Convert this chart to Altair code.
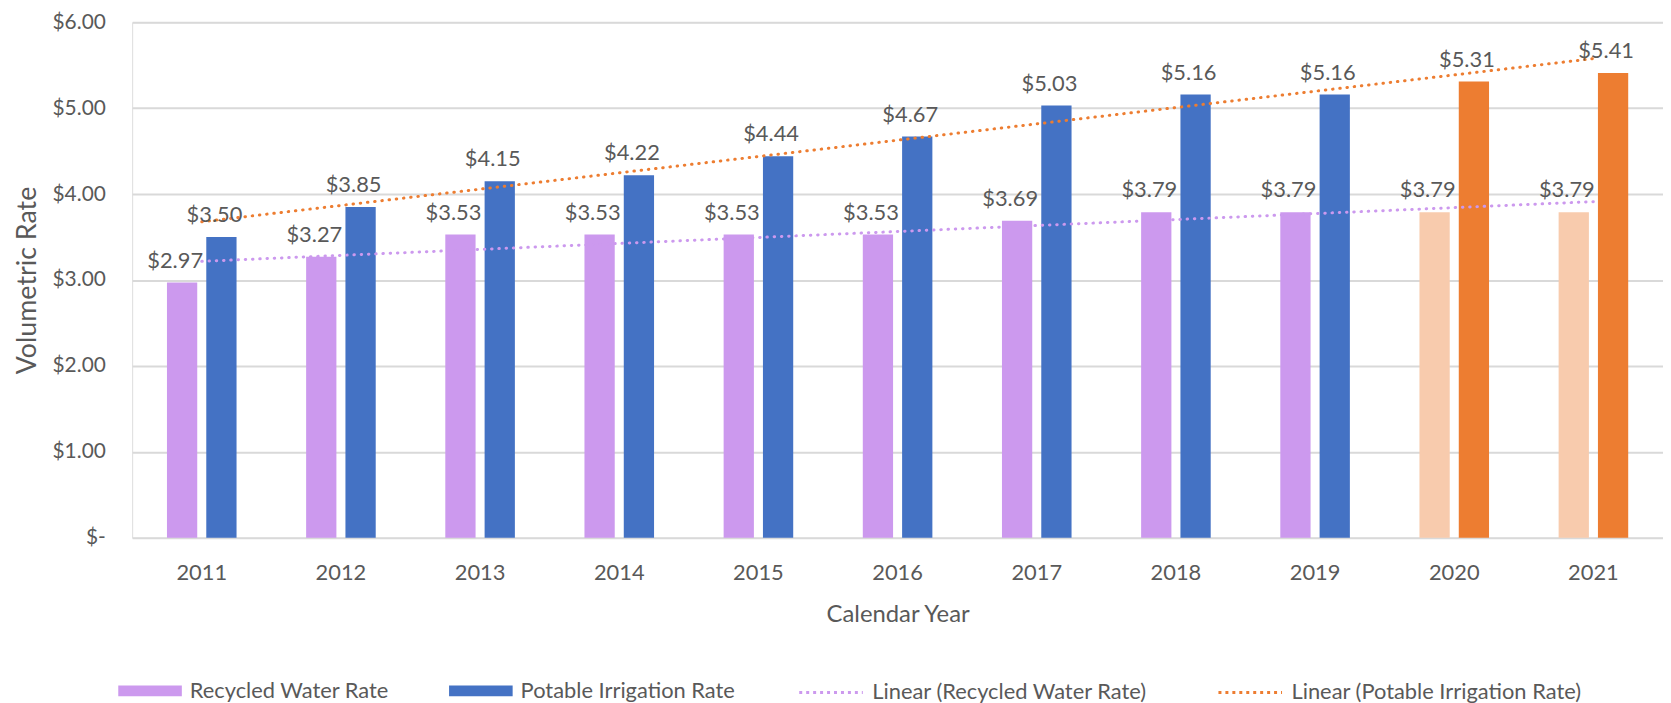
import altair as alt
import pandas as pd

# ---------------- data ----------------
years = [2011, 2012, 2013, 2014, 2015, 2016, 2017, 2018, 2019, 2020, 2021]
recycled = [2.97, 3.27, 3.53, 3.53, 3.53, 3.53, 3.69, 3.79, 3.79, 3.79, 3.79]
potable = [3.50, 3.85, 4.15, 4.22, 4.44, 4.67, 5.03, 5.16, 5.16, 5.31, 5.41]
series_names = ["Recycled Water Rate", "Potable Irrigation Rate"]
trend_names = ["Linear (Recycled Water Rate)", "Linear (Potable Irrigation Rate)"]
proposed_years = [2020, 2021]
proposed_names = ["Recycled Water Rate (2020-2021)", "Potable Irrigation Rate (2020-2021)"]
y_ticks = [0, 1, 2, 3, 4, 5, 6]

# ---------------- styles ----------------
PURPLE = "#CC99EE"
BLUE = "#4472C4"
PEACH = "#F8CBAD"
ORANGE = "#ED7D31"
GREY = "#595959"
GRID = "#D9D9D9"
FONT = "Lato"

rows = []
for i, yr in enumerate(years):
    for j, vals in enumerate([recycled, potable]):
        key = proposed_names[j] if yr in proposed_years else series_names[j]
        rows.append({"year": yr, "series": series_names[j], "value": vals[i], "colorKey": key})
df = pd.DataFrame(rows)

RECT = "M-2,-0.34H2V0.34H-2Z"
LINE = "M-2,0H2"
DOTS = [0.5, 6.8]

bar_legend = alt.Legend(
    title=None,
    orient="none",
    legendX=2,
    legendY=657,
    direction="horizontal",
    values=series_names,
    symbolType=RECT,
    symbolSize=1024,
    symbolStrokeWidth=0,
    labelFont=FONT,
    labelFontSize=22,
    labelColor=GREY,
    labelOffset=24,
    labelLimit=0,
    columnPadding=60,
    padding=0,
)

trend_legend = alt.Legend(
    title=None,
    orient="none",
    legendX=686,
    legendY=657,
    direction="horizontal",
    symbolType=LINE,
    symbolSize=1024,
    symbolStrokeWidth=3,
    symbolDash=[3, 4],
    symbolOpacity=1,
    labelFont=FONT,
    labelFontSize=22,
    labelColor=GREY,
    labelOffset=24,
    labelLimit=0,
    columnPadding=64,
    padding=0,
)

x_enc = alt.X(
    "year:O",
    scale=alt.Scale(domain=years, paddingInner=0.5, paddingOuter=0.25),
    axis=alt.Axis(
        title="Calendar Year",
        labelAngle=0,
        labelFont=FONT,
        labelFontSize=22,
        labelColor=GREY,
        labelPadding=25,
        ticks=False,
        tickSize=0,
        domain=False,
        grid=False,
        titleFont=FONT,
        titleFontSize=24,
        titleColor=GREY,
        titleFontWeight="normal",
        titlePadding=19,
    ),
)

y_enc = alt.Y(
    "value:Q",
    scale=alt.Scale(domain=[0, 6], nice=False),
    axis=alt.Axis(
        values=y_ticks,
        labelExpr="datum.value == 0 ? '$-\u00a0\u00a0' : '$' + format(datum.value, '.2f')",
        labelFont=FONT,
        labelFontSize=21,
        labelColor=GREY,
        labelPadding=27,
        ticks=False,
        tickSize=0,
        domain=False,
        grid=True,
        gridColor=GRID,
        gridWidth=2,
        title="Volumetric Rate",
        titleFont=FONT,
        titleFontSize=27,
        titleColor=GREY,
        titleFontWeight="normal",
        titlePadding=11,
    ),
)

x_off = alt.XOffset(
    "series:N",
    sort=series_names,
    scale=alt.Scale(domain=series_names, paddingInner=0.23, paddingOuter=0),
)

base = alt.Chart(df)

bars = base.mark_bar().encode(
    x=x_enc,
    xOffset=x_off,
    y=y_enc,
    color=alt.Color(
        "colorKey:N",
        scale=alt.Scale(domain=series_names + proposed_names, range=[PURPLE, BLUE, PEACH, ORANGE]),
        legend=bar_legend,
    ),
)

trend = (
    base.transform_joinaggregate(mx="mean(year)", my="mean(value)", groupby=["series"])
    .transform_calculate(
        dxy="(datum.year - datum.mx) * (datum.value - datum.my)",
        dxx="(datum.year - datum.mx) * (datum.year - datum.mx)",
    )
    .transform_joinaggregate(sxy="sum(dxy)", sxx="sum(dxx)", groupby=["series"])
    .transform_calculate(
        trend="datum.my + datum.sxy / datum.sxx * (datum.year - datum.mx)",
        trendName="'Linear (' + datum.series + ')'",
    )
    .mark_line(strokeDash=DOTS, strokeWidth=3, strokeCap="round")
    .encode(
        x=alt.X("year:O"),
        y=alt.Y("trend:Q"),
        stroke=alt.Stroke(
            "trendName:N",
            scale=alt.Scale(domain=trend_names, range=[PURPLE, ORANGE]),
            legend=trend_legend,
        ),
    )
)

labels = (
    base.transform_calculate(label="'$' + format(datum.value, '.2f')")
    .mark_text(font=FONT, fontSize=22, color=GREY, dx=-7, dy=-15, baseline="alphabetic")
    .encode(x=alt.X("year:O"), xOffset=x_off, y=alt.Y("value:Q"), text="label:N")
)

chart = (
    alt.layer(bars, trend, labels)
    .resolve_scale(color="independent", stroke="independent")
    .properties(width=1541, height=519, padding={"left": 5, "top": 1, "right": 0, "bottom": 0})
    .configure_view(stroke=None)
    .configure(background="white")
)

chart.save("out.html", embed_options={"renderer": "svg", "actions": False})
